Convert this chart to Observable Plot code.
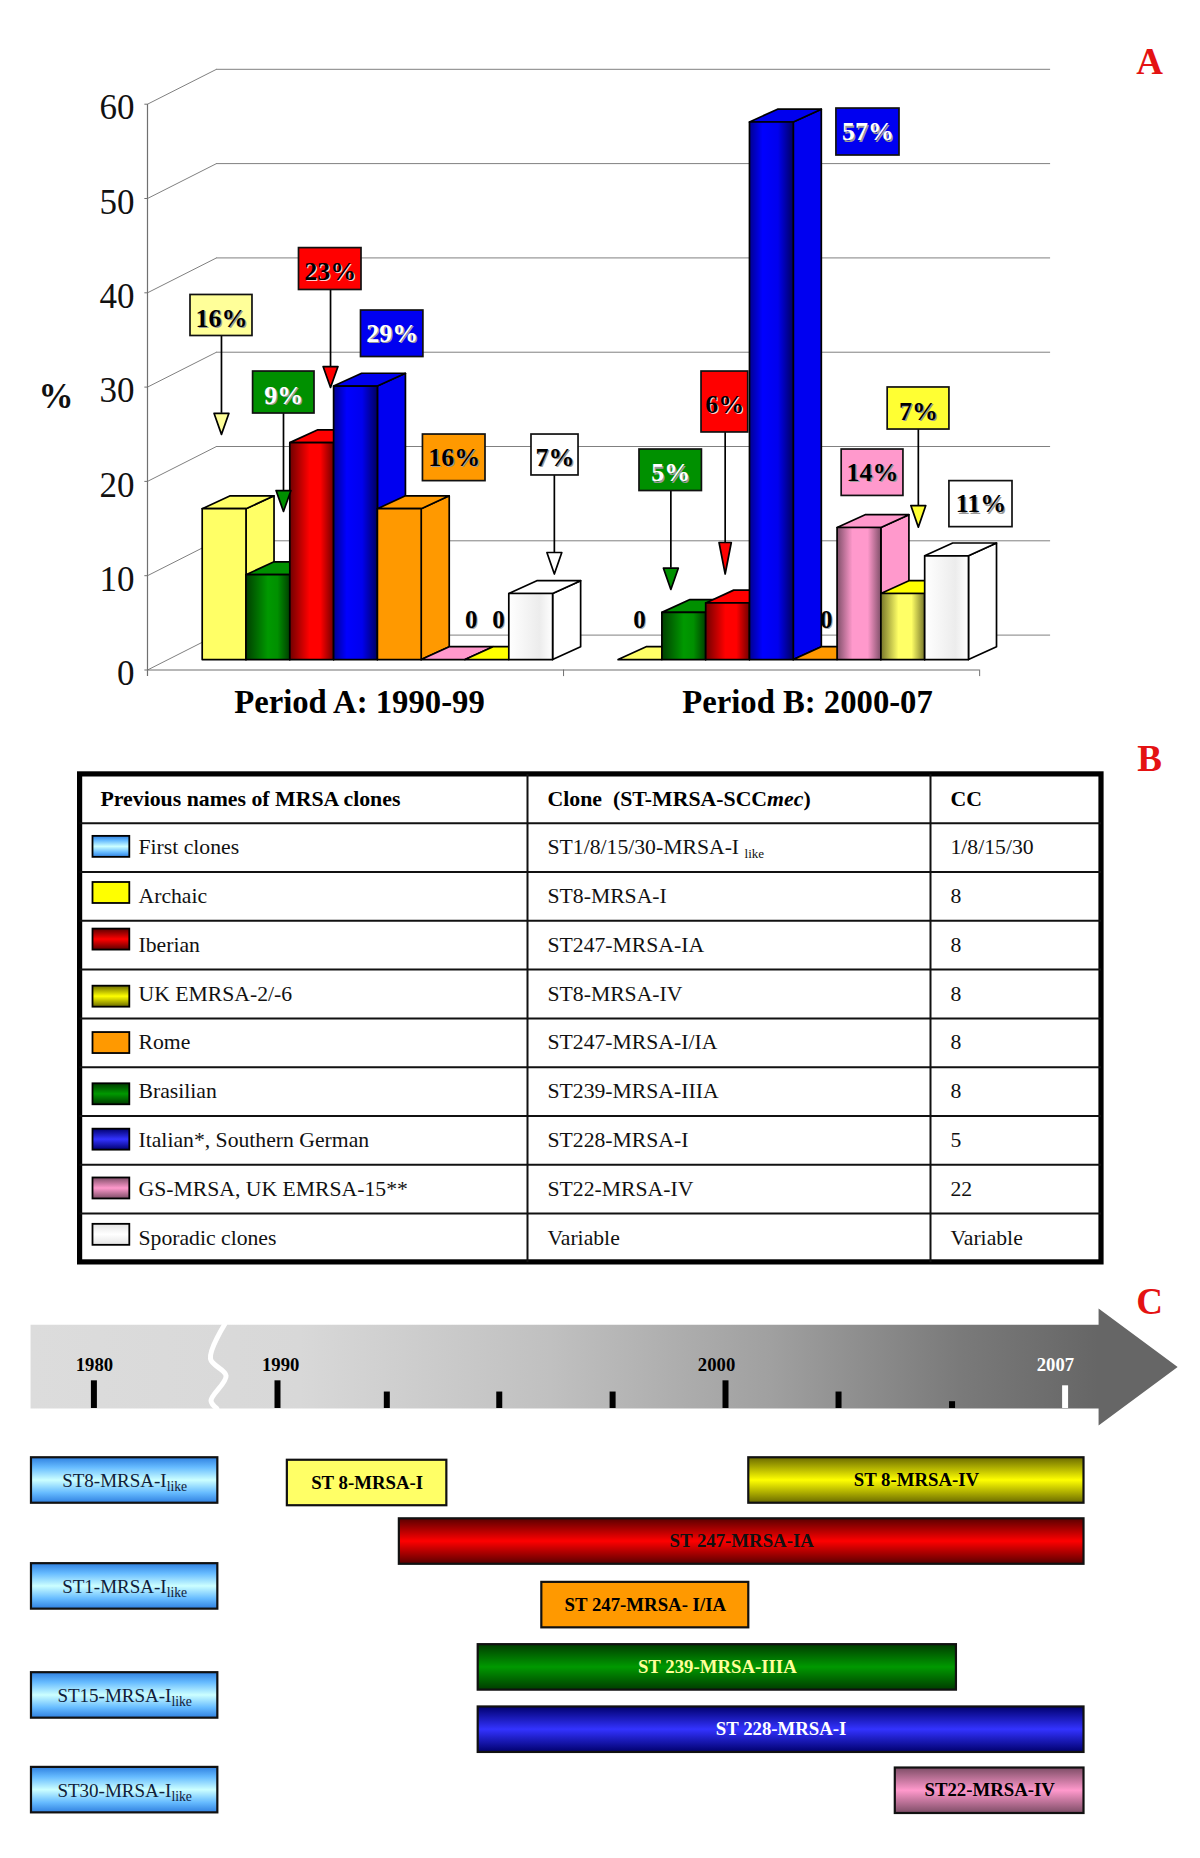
<!DOCTYPE html>
<html><head><meta charset="utf-8">
<style>html,body{margin:0;padding:0;background:#fff}</style>
<script src="https://cdn.jsdelivr.net/npm/d3@7"></script>
<script src="https://cdn.jsdelivr.net/npm/@observablehq/plot@0.6"></script>
</head><body><div id="chart"></div>
<script>
// ---------- DATA ----------
const clones = ["Archaic","Brasilian","Iberian","Italian","Rome","GS-MRSA","UK EMRSA","Sporadic"];
const periodA = [16,9,23,29,16,0,0,7];
const periodB = [0,5,6,57,0,14,7,11];
const periodLabels = ["Period A: 1990-99","Period B: 2000-07"];
const yTicks = [0,10,20,30,40,50,60];
const callouts = [
 // text, fill, ink, slot x1,x2, value y1,y2, arrow slot, head top, tip, half width
 ["16%","#ffff99","#000",-0.267,1.148,35.42,39.77,0.44,27.22,24.99,0.17],
 ["9%","#009000","#fff",1.162,2.564,27.2,31.65,1.856,19.03,16.81,0.17],
 ["23%","#ff0000","#000",2.21,3.637,40.3,44.74,2.93,32.18,29.96,0.17],
 ["29%","#0000f0","#fff",3.626,5.05,33.19,38.12],
 ["16%","#ff9900","#000",5.04,6.468,20.03,24.97],
 ["7%","#ffffff","#000",7.518,8.592,20.63,24.97,8.04,12.46,10.18,0.17],
 ["5%","#009000","#fff",9.984,11.409,18.98,23.38,10.70,10.8,8.54,0.17],
 ["6%","#ff0000","#000",11.4,12.466,25.19,31.65,11.94,13.52,10.18,0.14],
 ["57%","#0000f0","#fff",14.48,15.92,54.56,59.54],
 ["14%","#ff99cc","#000",14.6,16.01,18.46,23.38],
 ["7%","#ffff33","#000",15.65,17.06,25.5,29.96,16.35,17.44,15.15,0.17],
 ["11%","#ffffff","#000",17.06,18.5,15.15,20.03]
];
const zeroLabels = [6.14,6.765,9.984,14.25];

const tableHeader = ["Previous names of MRSA clones","Clone  (ST-MRSA-SCC~mec~)","CC"];
const cloneNames = ["First clones","Archaic","Iberian","UK EMRSA-2/-6","Rome","Brasilian","Italian*, Southern German","GS-MRSA, UK EMRSA-15**","Sporadic clones"];
const cloneCodes = ["ST1/8/15/30-MRSA-I _like","ST8-MRSA-I","ST247-MRSA-IA","ST8-MRSA-IV","ST247-MRSA-I/IA","ST239-MRSA-IIIA","ST228-MRSA-I","ST22-MRSA-IV","Variable"];
const cloneCC = ["1/8/15/30","8","8","8","8","8","5","22","Variable"];
const swatchFill = ["lightblue","flatYellow","red","darkYellow","orange","green","blue","pink","grey"];
const swatchOffset = [0.27,0.215,0.17,0.34,0.29,0.34,0.27,0.27,0.22];

const yearLabels = [[1980,1980.03,"#000"],[1990,1990.07,"#000"],[2000,1999.8,"#000"],[2007,2006.8,"#fff"]];
const yearTicks = [1980,1990,1992.44,1994.95,1997.48,2000,2002.33,2004.67,2007];
const tickTop = [-1.6,-1.6,-1.42,-1.42,-1.42,-1.6,-1.42,-1.265,-1.52];
const timeline = [
 ["ST8-MRSA-I_like",1976.6,1986.75,0,"lightblue","#10203a",false],
 ["ST1-MRSA-I_like",1976.6,1986.75,1.70,"lightblue","#10203a",false],
 ["ST15-MRSA-I_like",1976.6,1986.75,3.45,"lightblue","#10203a",false],
 ["ST30-MRSA-I_like",1976.6,1986.75,4.97,"lightblue","#10203a",false],
 ["ST 8-MRSA-I",1990.22,1993.78,0.04,"paleYellow","#000",true],
 ["ST 8-MRSA-IV",2000.48,2007.39,0,"darkYellow","#000",true],
 ["ST 247-MRSA-IA",1992.72,2007.39,0.98,"red","#111",true],
 ["ST 247-MRSA- I/IA",1995.9,2000.48,2,"orange","#000",true],
 ["ST 239-MRSA-IIIA",1994.48,2004.76,3,"green","#ffff99",true],
 ["ST 228-MRSA-I",1994.48,2007.39,4,"blue","#fff",true],
 ["ST22-MRSA-IV",2003.5,2007.39,4.98,"pink","#000",true]
];

// ---------- SHARED ----------
const SERIF = "Liberation Serif";
const WIDTH = 1200;
function defs(list){
  return () => {
    const d = d3.create("svg:defs");
    for (const [id, dir, stops] of list) {
      const g = d.append("linearGradient").attr("id", id)
        .attr("x1",0).attr("y1",0).attr("x2",dir==="h"?1:0).attr("y2",dir==="h"?0:1);
      for (const [o,c] of stops) g.append("stop").attr("offset",o).attr("stop-color",c);
    }
    return d.node();
  };
}
function rich(svg, subSize){
  d3.select(svg).selectAll("text").each(function(){
    const t = this.textContent;
    if (t.includes("_")) {
      const [a,b] = t.split("_");
      this.textContent = a;
      d3.select(this).append("tspan").attr("dy","0.3em").attr("font-size",subSize).text(b);
    } else if (t.includes("~")) {
      const [a,b,c] = t.split("~");
      this.textContent = a;
      d3.select(this).append("tspan").attr("font-style","italic").text(b);
      d3.select(this).append("tspan").text(c);
    }
  });
  return svg;
}
const root = document.getElementById("chart");
const letter = (txt, opts) => Plot.text([txt], {text:d=>d, fontFamily:SERIF, fontWeight:"bold", fontSize:37, fill:"#e41212", lineAnchor:"bottom", ...opts});

// ---------- PANEL A ----------
const barFaces = {
 "Archaic":["#ffff66","#ffff66","#ffff66"],
 "Brasilian":["url(#hGreen)","#009000","#009000"],
 "Iberian":["url(#hRed)","#ff0000","#ff0000"],
 "Italian":["url(#hBlue)","#0000ee","#0000f0"],
 "Rome":["#ff9900","#ff9900","#ff9900"],
 "GS-MRSA":["url(#hPink)","#ff99cc","#ff99cc"],
 "UK EMRSA":["url(#hOlive)","#ffff00","#ffff66"],
 "Sporadic":["url(#hWhite)","#ffffff","#ffffff"]
};
const BASE = 1.11, DX = 0.64, DY = 1.36, WALLX = -1.249, WDX = 1.575, WDY = 3.7, WEND = 19.37, FEND = 17.75;
const polys = [];
[[periodA,0],[periodB,9.495]].forEach(([vals,start],g) => vals.forEach((v,i) => {
  const x0 = start+i, x1 = x0+1, b = BASE, t = BASE+v, [front,top,side] = barFaces[clones[i]];
  const add = (name,fill,pts) => pts.forEach(([x,y]) => polys.push({id:`${g}-${i}-${name}`,fill,x,y}));
  if (v>0) add("side",side,[[x1,b],[x1+DX,b+DY],[x1+DX,t+DY],[x1,t]]);
  add("top",top,[[x0,t],[x1,t],[x1+DX,t+DY],[x0+DX,t+DY]]);
  if (v>0) add("front",front,[[x0,b],[x1,b],[x1,t],[x0,t]]);
}));
const heads = [];
callouts.forEach((c,i)=>{ if(c[7]!==undefined){ const [x,t,tip,w]=c.slice(7);
  heads.push({id:i,fill:c[1],x:x-w,y:t},{id:i,fill:c[1],x:x+w,y:t},{id:i,fill:c[1],x,y:tip}); }});
const calloutY = d => (d[5]+d[6])/2 - (d[7]!==undefined ? 0.3 : 0);
const HA = 735;
const pxPerSlot = 43.8, slot0 = 201.7, pxPerVal = 9.43, val0 = 669.5;
const panelA = Plot.plot({
  width:WIDTH, height:HA, margin:0,
  style:{fontFamily:SERIF, background:"#fff"},
  x:{domain:[-slot0/pxPerSlot,(WIDTH-slot0)/pxPerSlot], range:[0,WIDTH], axis:null},
  y:{domain:[(val0-HA)/pxPerVal,val0/pxPerVal], range:[HA,0], axis:null},
  color:{type:"identity"},
  marks:[
    defs([
      ["hGreen","h",[[0,"#004000"],[0.5,"#009900"],[0.72,"#009000"],[1,"#004000"]]],
      ["hRed","h",[[0,"#700000"],[0.45,"#ff0000"],[0.7,"#ff0000"],[1,"#700000"]]],
      ["hBlue","h",[[0,"#000090"],[0.3,"#0000ff"],[0.65,"#0000ee"],[1,"#000060"]]],
      ["hPink","h",[[0,"#80506a"],[0.35,"#ff99cc"],[0.7,"#ff99cc"],[1,"#80506a"]]],
      ["hOlive","h",[[0,"#77772a"],[0.4,"#ffff66"],[0.7,"#ffff66"],[1,"#77772a"]]],
      ["hWhite","h",[[0,"#ffffff"],[0.7,"#ececec"],[1,"#ffffff"]]]
    ]),
    // back wall grid + side wall diagonals
    Plot.ruleY(yTicks,{x1:WALLX+WDX,x2:WEND,y:d=>d+WDY,stroke:"#808080",strokeWidth:1}),
    Plot.link(yTicks,{x1:WALLX,y1:d=>d,x2:WALLX+WDX,y2:d=>d+WDY,stroke:"#808080",strokeWidth:1,curve:"linear"}),
    Plot.ruleX([WALLX],{y1:-0.7,y2:60,stroke:"#707070",strokeWidth:1.2}),
    Plot.ruleY(yTicks,{x1:WALLX-0.06,x2:WALLX,stroke:"#707070"}),
    Plot.ruleY([0],{x1:WALLX,x2:FEND,stroke:"#707070",strokeWidth:1.2}),
    Plot.ruleX([8.25,FEND],{y1:-0.7,y2:0,stroke:"#707070"}),
    Plot.text(yTicks,{x:-1.546,y:d=>d,text:d=>`${d}`,textAnchor:"end",lineAnchor:"middle",dy:4,fontSize:35,fill:"#111"}),
    Plot.text(["%"],{x:-3.34,y:29.0,text:d=>d,fontSize:35,fontWeight:"bold",fill:"#111",lineAnchor:"middle"}),
    Plot.text(periodLabels,{x:(d,i)=>[3.59,13.82][i],y:-4.6,text:d=>d,fontSize:32.7,fontWeight:"bold",lineAnchor:"bottom",fill:"#000"}),
    Plot.text(zeroLabels,{x:d=>d,y:5.25,text:()=>"0",fontSize:25,fontWeight:"bold",lineAnchor:"middle",dx:1,dy:1,fill:"#aaa"}),
    Plot.text(zeroLabels,{x:d=>d,y:5.25,text:()=>"0",fontSize:25,fontWeight:"bold",lineAnchor:"middle",fill:"#000"}),
    // 3-D bars, painted left to right
    Plot.line(polys,{x:"x",y:"y",z:"id",fill:"fill",stroke:"#000",strokeWidth:1.7,curve:"linear-closed",strokeLinejoin:"round"}),
    // callouts
    Plot.ruleX(callouts.filter(c=>c[7]!==undefined),{x:d=>d[7],y1:d=>d[5],y2:d=>d[8],stroke:"#000",strokeWidth:1.7}),
    Plot.line(heads,{x:"x",y:"y",z:"id",fill:"fill",stroke:"#000",strokeWidth:1.7,curve:"linear-closed"}),
    Plot.rect(callouts,{x1:d=>d[3],x2:d=>d[4],y1:d=>d[5],y2:d=>d[6],fill:d=>d[1],stroke:"#111",strokeWidth:1.7}),
    Plot.text(callouts,{x:d=>(d[3]+d[4])/2,y:calloutY,text:d=>d[0],fontSize:26,fontWeight:"bold",lineAnchor:"middle",dx:1.2,dy:1.2,fill:d=>d[1]==="#ff0000"?"#ffd0d0":"#999"}),
    Plot.text(callouts,{x:d=>(d[3]+d[4])/2,y:calloutY,text:d=>d[0],fontSize:26,fontWeight:"bold",lineAnchor:"middle",fill:d=>d[2]}),
    letter("A",{x:21.63,y:63.2})
  ]
});
root.append(panelA);

// ---------- PANEL B ----------
const HB = 535;
const rowTop = 773.9-HA, rowH = 48.8;
const vGrad = [
 ["vlightblue","v",[[0,"#2f80e0"],[0.22,"#66bbff"],[0.5,"#ccffff"],[0.78,"#66bbff"],[1,"#2f80e0"]]],
 ["vdarkYellow","v",[[0,"#6a6a00"],[0.5,"#ffff00"],[1,"#6a6a00"]]],
 ["vred","v",[[0,"#5a0000"],[0.5,"#ff0000"],[1,"#5a0000"]]],
 ["vgreen","v",[[0,"#003c00"],[0.5,"#009900"],[1,"#003c00"]]],
 ["vblue","v",[[0,"#00006e"],[0.5,"#3333ff"],[1,"#00006e"]]],
 ["vpink","v",[[0,"#7d4d66"],[0.5,"#ff99cc"],[1,"#7d4d66"]]],
 ["vgrey","v",[[0,"#e4e4e4"],[0.5,"#ffffff"],[1,"#e4e4e4"]]]
];
const paint = k => ({flatYellow:"#ffff00",paleYellow:"#ffff66",orange:"#ff9900"})[k] || `url(#v${k})`;
const tableRows = cloneNames.map((n,i)=>({row:i+1,name:n,code:cloneCodes[i],cc:cloneCC[i],fill:paint(swatchFill[i]),off:swatchOffset[i]}));
const COLS = [84,527,930,1101], TX = [100,547,950], NX = 138;
const panelB = Plot.plot({
  width:WIDTH,height:HB,margin:0,
  style:{fontFamily:SERIF,background:"#fff"},
  x:{domain:[0,WIDTH],range:[0,WIDTH],axis:null},
  y:{domain:[0,10],range:[rowTop,rowTop+10*rowH],axis:null},
  color:{type:"identity"},
  marks:[
    defs(vGrad),
    Plot.rect([0],{x1:79.6,x2:COLS[3],y1:0,y2:10,fill:"#fff",stroke:"#000",strokeWidth:5.2}),
    Plot.ruleY(d3.range(1,10),{x1:79.6,x2:COLS[3],y:d=>d,stroke:"#111",strokeWidth:2}),
    Plot.ruleX([COLS[1],COLS[2]],{y1:0,y2:10,stroke:"#111",strokeWidth:2}),
    Plot.text(tableHeader,{x:(d,i)=>TX[i],y:0.64,text:d=>d,fontSize:21.8,fontWeight:"bold",textAnchor:"start",lineAnchor:"bottom",fill:"#000"}),
    Plot.rect(tableRows,{x1:92.5,x2:129.3,y1:d=>d.row+d.off,y2:d=>d.row+d.off+0.43,fill:"fill",stroke:"#000",strokeWidth:1.8}),
    Plot.text(tableRows,{x:NX,y:d=>d.row+0.635,text:"name",fontSize:21.7,textAnchor:"start",lineAnchor:"bottom",fill:"#111"}),
    Plot.text(tableRows,{x:TX[1],y:d=>d.row+0.635,text:"code",fontSize:21.7,textAnchor:"start",lineAnchor:"bottom",fill:"#111"}),
    Plot.text(tableRows,{x:TX[2],y:d=>d.row+0.635,text:"cc",fontSize:21.7,textAnchor:"start",lineAnchor:"bottom",fill:"#111"}),
    letter("B",{x:1149,y:-0.06})
  ]
});
root.append(rich(panelB,"0.6em"));

// ---------- PANEL C ----------
const HC = 1858-HA-HB, topC = HA+HB, row0 = 1480-topC, rowStep = 62.3;
const y0 = -row0/rowStep, y1 = (HC-row0)/rowStep;
const arrow = [[1976.55,-2.5],[2007.69,-2.5],[2007.69,-2.76],[2009.32,-1.82],[2007.69,-0.883],[2007.69,-1.156],[1976.55,-1.156]].map(([x,y])=>({x,y}));
const breakLine = [[1987.11,-2.5],[1986.35,-1.955],[1987.2,-1.68],[1986.38,-1.28],[1986.7,-1.156]].map(([x,y])=>({x,y}));
const tl = timeline.map(([label,from,to,row,fill,ink,bold])=>({label,from,to,row,fill:paint(fill),ink,bold}));
// the printed time axis is not uniform: 1980-1990 compressed by the break, 1990-2000 and 2000-2007 differ
const yearToPos = d3.scaleLinear().domain([1980,1990,2000,2007]).range([93.4,277,725,1064.6]);
const mid = d => yearToPos.invert((yearToPos(d.from)+yearToPos(d.to))/2);
const panelC = Plot.plot({
  width:WIDTH,height:HC,margin:0,
  style:{fontFamily:SERIF,background:"#fff"},
  x:{transform:d=>yearToPos(d),domain:[0,WIDTH],range:[0,WIDTH],axis:null},
  y:{domain:[y0,y1],range:[0,HC],axis:null},
  color:{type:"identity"},
  marks:[
    defs([...vGrad,
      ["hArrow","h",[[0,"#dcdcdc"],[0.235,"#d8d8d8"],[0.453,"#c0c0c0"],[0.645,"#a0a0a0"],[0.81,"#7a7a7a"],[0.93,"#666666"],[1,"#666666"]]]]),
    Plot.line(arrow,{x:"x",y:"y",fill:"url(#hArrow)",stroke:"none",curve:"linear-closed"}),
    Plot.line(breakLine,{x:"x",y:"y",stroke:"#fff",strokeWidth:5,curve:"catmull-rom"}),
    Plot.ruleX(yearTicks,{x:d=>d,y1:(d,i)=>tickTop[i],y2:-1.156,stroke:d=>d===2007?"#fff":"#000",strokeWidth:6}),
    Plot.text(yearLabels,{x:d=>d[1],y:-1.76,text:d=>`${d[0]}`,fontSize:18.7,fontWeight:"bold",lineAnchor:"bottom",fill:d=>d[2]}),
    Plot.rect(tl,{x1:"from",x2:"to",y1:d=>d.row-0.365,y2:d=>d.row+0.365,fill:"fill",stroke:"#111",strokeWidth:2.2}),
    Plot.text(tl.filter(d=>d.bold),{x:mid,y:d=>d.row+0.09,text:"label",fontSize:18.8,fontWeight:"bold",lineAnchor:"bottom",fill:"ink"}),
    Plot.text(tl.filter(d=>!d.bold),{x:mid,y:d=>d.row+0.11,text:"label",fontSize:19,lineAnchor:"bottom",fill:"ink"}),
    letter("C",{x:2008.74,y:-2.68})
  ]
});
root.append(rich(panelC,"0.72em"));
</script></body></html>
